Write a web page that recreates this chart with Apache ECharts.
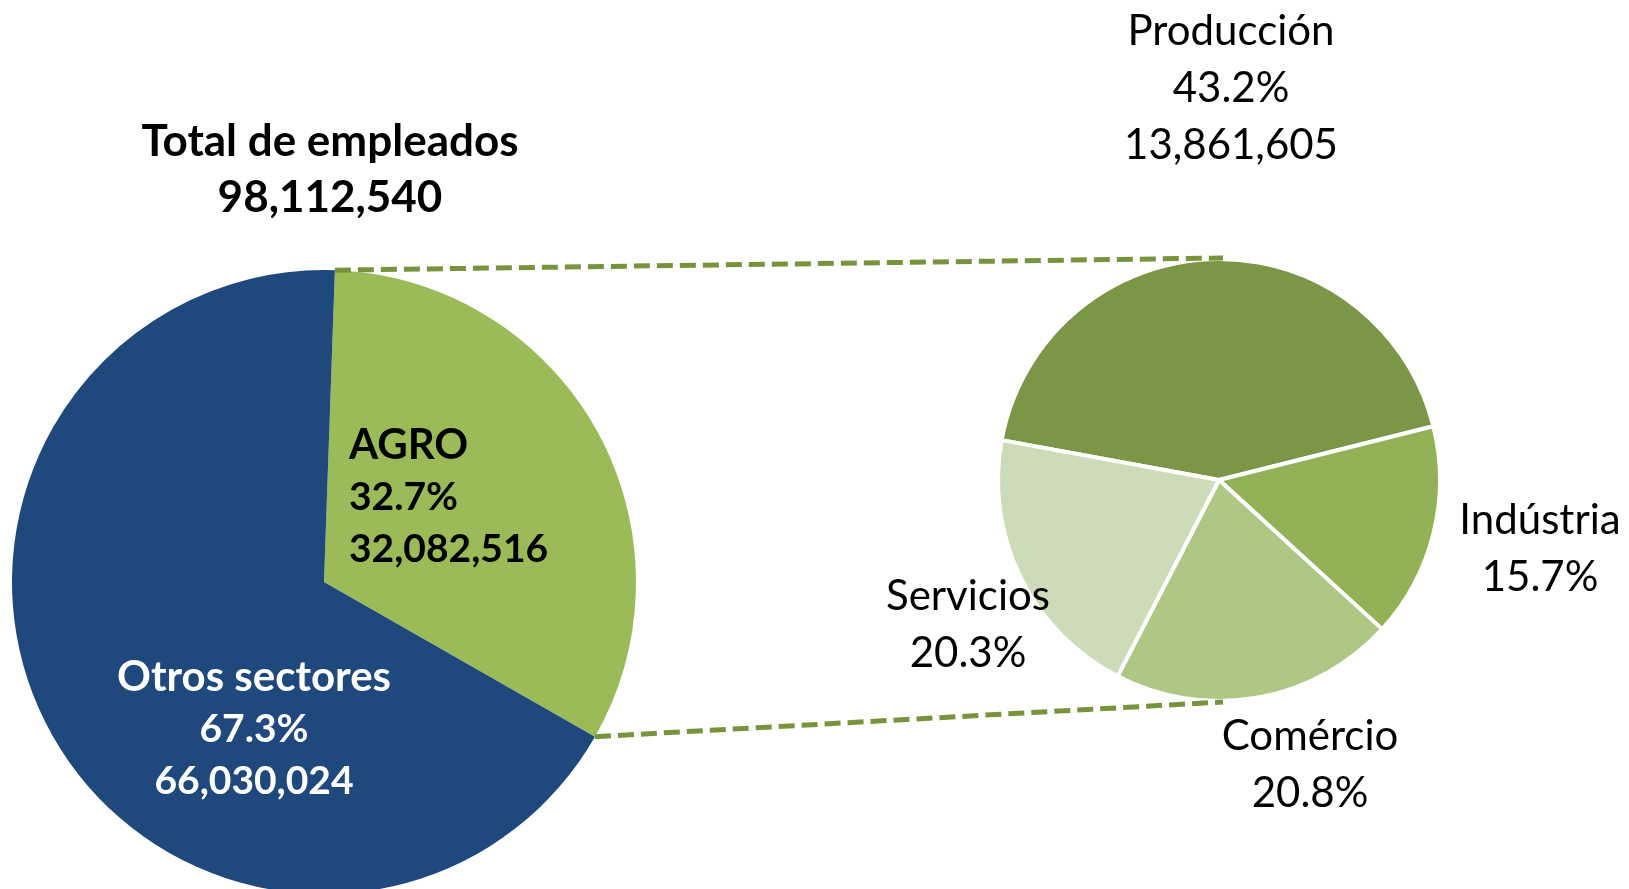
<!DOCTYPE html>
<html>
<head>
<meta charset="utf-8">
<script src="https://cdn.jsdelivr.net/npm/echarts@6/dist/echarts.min.js"></script>
<style>
  html, body { margin: 0; padding: 0; background: #fff; }
  #main { width: 1629px; height: 889px; }
</style>
</head>
<body>
<div id="main"></div>
<script>
// datos
var sectores = ['AGRO', 'Otros sectores'];
var empleados = [32082516, 66030024];
var subsectores = ['Producción', 'Indústria', 'Comércio', 'Servicios'];
var subPorcentaje = [43.2, 15.7, 20.8, 20.3];
var empleadosProduccion = 13861605;

// layout
var FONT = 'Lato';
var leftC = [324, 582], leftR = 312;
var rightC = [1219, 480], rightR = 221;
var agroStart = 88; // grados (echarts)
var subStart = 169.6;

var total = empleados[0] + empleados[1];
function fmt(n) { return n.toLocaleString('en-US'); }

// offsets de etiquetas respecto al centro de cada pastel
var leftLabelOff = [[25, -85, 'left'], [-70, 147, 'center']];
var rightLabelOff = [[12, -392], [321, 69], [91, 285], [-251, 145]];

var leftColors = ['#9BBB59', '#1F497D'];
var rightColors = ['#7B9646', '#93B157', '#AEC784', '#CDDCB8'];

// puntos del conector
var a0 = agroStart * Math.PI / 180;
var a1 = (agroStart - empleados[0] / total * 360) * Math.PI / 180;
var p0 = [leftC[0] + leftR * Math.cos(a0), leftC[1] - leftR * Math.sin(a0)];
var p1 = [leftC[0] + leftR * Math.cos(a1), leftC[1] - leftR * Math.sin(a1)];
var lineStyle = { stroke: '#77933C', lineWidth: 5, lineDash: [16, 7] };

var chart = echarts.init(document.getElementById('main'));

var option = {
  backgroundColor: '#fff',
  animation: false,
  textStyle: { fontFamily: FONT },
  graphic: [
    {
      type: 'text', x: 330, y: 170, z: 10,
      style: {
        text: 'Total de empleados\n' + fmt(total),
        font: 'bold 44px ' + FONT, fill: '#000',
        align: 'center', verticalAlign: 'middle', lineHeight: 56
      }
    },
    { type: 'line', z: 10, shape: { x1: p0[0], y1: p0[1], x2: rightC[0] + 4, y2: rightC[1] - rightR - 1 }, style: lineStyle },
    { type: 'line', z: 10, shape: { x1: p1[0], y1: p1[1], x2: rightC[0] + 4, y2: rightC[1] + rightR + 1 }, style: lineStyle }
  ],
  series: [
    {
      type: 'pie',
      center: leftC,
      radius: leftR,
      startAngle: agroStart,
      clockwise: true,
      avoidLabelOverlap: false,
      emphasis: { disabled: true },
      data: sectores.map(function (s, i) {
        return { name: s, value: empleados[i], itemStyle: { color: leftColors[i] } };
      }),
      label: {
        show: true,
        position: 'inside',
        fontFamily: FONT,
        formatter: function (p) {
          return '{n|' + p.name + '}\n{v|' + (p.value / total * 100).toFixed(1) + '%}\n{v|' + fmt(p.value) + '}';
        },
        rich: {
          n: { fontSize: 42, fontWeight: 'bold', lineHeight: 52, fontFamily: FONT },
          v: { fontSize: 39, fontWeight: 'bold', lineHeight: 52, fontFamily: FONT }
        }
      },
      labelLine: { show: false },
      labelLayout: function (p) {
        var o = leftLabelOff[p.dataIndex];
        return { x: leftC[0] + o[0], y: leftC[1] + o[1], align: o[2], verticalAlign: 'middle' };
      }
    },
    {
      type: 'pie',
      center: rightC,
      radius: rightR,
      startAngle: subStart,
      clockwise: true,
      avoidLabelOverlap: false,
      emphasis: { disabled: true },
      itemStyle: { borderColor: '#fff', borderWidth: 4 },
      data: subsectores.map(function (s, i) {
        return { name: s, value: subPorcentaje[i], itemStyle: { color: rightColors[i] } };
      }),
      label: {
        show: true,
        position: 'outside',
        fontFamily: FONT,
        formatter: function (p) {
          var t = '{n|' + p.name + '}\n{n|' + p.value.toFixed(1) + '%}';
          if (p.dataIndex === 0) t += '\n{n|' + fmt(empleadosProduccion) + '}';
          return t;
        },
        rich: {
          n: { fontSize: 42, lineHeight: 57, color: '#000', fontFamily: FONT }
        }
      },
      labelLine: { show: false },
      labelLayout: function (p) {
        var o = rightLabelOff[p.dataIndex];
        return { x: rightC[0] + o[0], y: rightC[1] + o[1], align: 'center', verticalAlign: 'middle' };
      }
    }
  ]
};

// color de texto por sector
option.series[0].data[0].label = { color: '#000' };
option.series[0].data[1].label = { color: '#fff' };

chart.setOption(option);
</script>
</body>
</html>
